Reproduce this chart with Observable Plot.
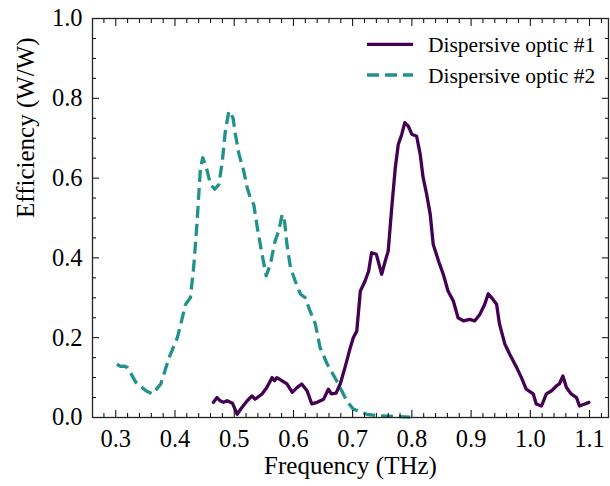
<!DOCTYPE html>
<html><head><meta charset="utf-8">
<script src="https://cdn.jsdelivr.net/npm/d3@7"></script>
<script src="https://cdn.jsdelivr.net/npm/@observablehq/plot@0.6"></script>
<style>body{margin:0;background:#fff}</style>
</head><body><div id="chart"></div>
<script>
const seriesNames = ["Dispersive optic #1", "Dispersive optic #2"];
const seriesColors = ["#440154", "#21918c"];

const freq1 = [0.465,0.471,0.476,0.482,0.488,0.497,0.505,0.513,0.522,0.530,0.535,0.539,0.547,0.555,0.564,0.568,0.572,0.581,0.589,0.598,0.606,0.614,0.623,0.631,0.640,0.651,0.659,0.664,0.672,0.679,0.687,0.696,0.701,0.707,0.713,0.721,0.727,0.732,0.740,0.749,0.755,0.760,0.766,0.772,0.777,0.783,0.788,0.794,0.800,0.808,0.814,0.819,0.825,0.831,0.836,0.845,0.853,0.861,0.870,0.878,0.887,0.898,0.906,0.915,0.923,0.929,0.937,0.943,0.948,0.957,0.965,0.977,0.985,0.993,1.005,1.010,1.019,1.027,1.036,1.044,1.049,1.055,1.061,1.069,1.078,1.083,1.092,1.099];
const eff1 = [0.038,0.050,0.042,0.038,0.042,0.036,0.008,0.025,0.042,0.054,0.046,0.050,0.059,0.075,0.100,0.092,0.100,0.092,0.084,0.063,0.075,0.084,0.067,0.034,0.038,0.046,0.071,0.059,0.061,0.084,0.125,0.175,0.200,0.217,0.317,0.342,0.367,0.413,0.409,0.359,0.392,0.417,0.526,0.626,0.684,0.710,0.739,0.730,0.710,0.705,0.660,0.601,0.559,0.509,0.434,0.392,0.359,0.317,0.292,0.250,0.242,0.246,0.242,0.259,0.284,0.310,0.296,0.284,0.234,0.184,0.159,0.125,0.100,0.071,0.059,0.034,0.029,0.059,0.067,0.079,0.084,0.104,0.075,0.059,0.050,0.029,0.034,0.038];

const freq2 = [0.302,0.308,0.314,0.320,0.334,0.351,0.362,0.376,0.390,0.404,0.418,0.426,0.432,0.437,0.443,0.447,0.453,0.460,0.467,0.474,0.480,0.485,0.491,0.498,0.502,0.508,0.516,0.522,0.527,0.533,0.539,0.547,0.554,0.561,0.569,0.575,0.581,0.585,0.589,0.595,0.603,0.612,0.620,0.628,0.637,0.645,0.657,0.673,0.690,0.701,0.724,0.746,0.797];
const eff2 = [0.134,0.128,0.129,0.125,0.088,0.067,0.059,0.084,0.150,0.200,0.284,0.300,0.384,0.484,0.626,0.651,0.626,0.584,0.572,0.584,0.643,0.718,0.768,0.751,0.710,0.660,0.618,0.576,0.551,0.534,0.476,0.409,0.355,0.384,0.442,0.467,0.509,0.492,0.434,0.376,0.342,0.309,0.300,0.267,0.234,0.175,0.134,0.092,0.042,0.021,0.008,0.004,0.001];

const xTicks = [0.3,0.4,0.5,0.6,0.7,0.8,0.9,1.0,1.1];
const yTicks = [0.0,0.2,0.4,0.6,0.8,1.0];
const xMinor = d3.range(14,57).map(i => i*0.02).filter(v => Math.abs(v*10 - Math.round(v*10)) > 1e-6);
const yMinor = d3.range(1,20).map(i => i*0.05).filter(v => Math.abs(v*5 - Math.round(v*5)) > 1e-6);

const rows1 = freq1.map((f,i) => ({f, e: eff1[i]}));
const rows2 = freq2.map((f,i) => ({f, e: eff2[i]}));

const fmt = d3.format(".1f");
const tickFont = 24.5;
const FONT = "Liberation Serif";

const plot = Plot.plot({
  width: 610,
  height: 486,
  marginLeft: 92,
  marginRight: 2,
  marginTop: 18,
  marginBottom: 69,
  style: {fontFamily: FONT, background: "white", color: "black"},
  x: {domain: [0.2607, 1.132]},
  y: {domain: [0, 1]},
  marks: [
    Plot.line(rows2, {x: "f", y: "e", stroke: seriesColors[1], strokeWidth: 3.3, strokeDasharray: "12,6", strokeLinecap: "butt"}),
    Plot.line(rows1, {x: "f", y: "e", stroke: seriesColors[0], strokeWidth: 3.3}),
    Plot.axisX(xTicks, {anchor: "bottom", tickSize: -7, tickPadding: 19, tickFormat: fmt, fontSize: tickFont, fontFamily: FONT, label: null}),
    Plot.axisX(xMinor, {anchor: "bottom", tickSize: -4, tickFormat: () => "", label: null}),
    Plot.axisX(xTicks, {anchor: "top", tickSize: -7, tickFormat: () => "", label: null}),
    Plot.axisX(xMinor, {anchor: "top", tickSize: -4, tickFormat: () => "", label: null}),
    Plot.axisY(yTicks, {anchor: "left", tickSize: -7, tickPadding: 17, tickFormat: fmt, fontSize: tickFont, fontFamily: FONT, label: null}),
    Plot.axisY(yMinor, {anchor: "left", tickSize: -4, tickFormat: () => "", label: null}),
    Plot.axisY(yTicks, {anchor: "right", tickSize: -7, tickFormat: () => "", label: null}),
    Plot.axisY(yMinor, {anchor: "right", tickSize: -4, tickFormat: () => "", label: null}),
    Plot.frame({stroke: "#222", strokeWidth: 1.3}),
    Plot.text(["Frequency (THz)"], {text: d => d, frameAnchor: "bottom", dy: 56, fontSize: 25, fontFamily: FONT, fill: "black"}),
    Plot.text(["Efficiency (W/W)"], {text: d => d, frameAnchor: "left", dx: -67, rotate: -90, fontSize: 25, fontFamily: FONT, fill: "black"})
  ]
});

const svg = d3.select(plot);
const lg = svg.append("g").attr("font-family", FONT).attr("font-size", 21.5).attr("text-anchor", "start");
const legendY = [44.3, 75];
seriesNames.forEach((name, i) => {
  lg.append("line").attr("x1", 367).attr("x2", 413).attr("y1", legendY[i]).attr("y2", legendY[i])
    .attr("stroke", seriesColors[i]).attr("stroke-width", 3.3)
    .attr("stroke-dasharray", i === 1 ? "12,6" : null);
  lg.append("text").attr("x", 428).attr("y", legendY[i]).attr("dy", "0.35em").attr("fill", "black")
    .attr("font-family", FONT).attr("text-anchor", "start").text(name);
});

document.getElementById("chart").appendChild(plot);
</script>
</body></html>
